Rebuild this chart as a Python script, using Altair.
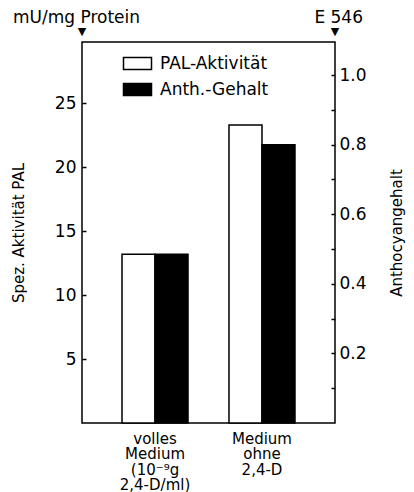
import altair as alt
import pandas as pd

categories = ["volles|Medium|(10⁻⁹g|2,4-D/ml)", "Medium|ohne|2,4-D"]
series = ["PAL-Aktivität", "Anth.-Gehalt"]
pal_values = [13.2, 23.3]
anth_values = [0.485, 0.80]
left_ticks = [5, 10, 15, 20, 25]
right_ticks = [0.1, 0.2, 0.3, 0.4, 0.5, 0.6, 0.7, 0.8, 0.9, 1.0]

FONT = "DejaVu Sans"

pal_df = pd.DataFrame({"cat": categories, "val": pal_values, "series": series[0]})
anth_df = pd.DataFrame({"cat": categories, "val": anth_values, "series": series[1]})

x_enc = alt.X(
    "cat:N",
    sort=categories,
    scale=alt.Scale(paddingInner=0.383, paddingOuter=0.374),
    axis=alt.Axis(
        title=None, labelAngle=0, ticks=False, domain=False,
        labelExpr="split(datum.label, '|')",
        labelFont=FONT, labelFontSize=15, labelColor="black",
        labelLineHeight=15.5, labelPadding=8, labelBaseline="top",
    ),
)
xoff = alt.XOffset("series:N", sort=series,
                   scale=alt.Scale(domain=series, paddingInner=0, paddingOuter=0))
fill_enc = alt.Fill(
    "series:N",
    scale=alt.Scale(domain=series, range=["white", "black"]),
    legend=alt.Legend(
        title=None, orient="none", legendX=47, legendY=13,
        symbolType="M -2 -0.84 L 2 -0.84 L 2 0.84 L -2 0.84 Z",
        symbolSize=196, symbolStrokeColor="black", symbolStrokeWidth=1.5,
        labelFont=FONT, labelFontSize=17, labelColor="black",
        rowPadding=7, labelOffset=14,
    ),
)

pal = alt.Chart(pal_df).mark_bar(stroke="black", strokeWidth=1.5).encode(
    x=x_enc,
    xOffset=xoff,
    fill=fill_enc,
    y=alt.Y(
        "val:Q",
        scale=alt.Scale(domain=[0, 29.8], nice=False, zero=False),
        axis=alt.Axis(
            orient="left", values=left_ticks, domain=False, grid=False,
            offset=-4, tickSize=4, tickWidth=1.5, tickColor="black",
            labelFont=FONT, labelFontSize=17, labelColor="black", labelPadding=6,
            title="Spez. Aktivität PAL", titleFont=FONT, titleFontSize=15,
            titleFontWeight="normal", titleColor="black", titlePadding=28,
        ),
    ),
)

anth = alt.Chart(anth_df).mark_bar(stroke="black", strokeWidth=1.5).encode(
    x=x_enc,
    xOffset=xoff,
    fill=fill_enc,
    y=alt.Y(
        "val:Q",
        scale=alt.Scale(domain=[0, 1.095], nice=False, zero=False),
        axis=alt.Axis(
            orient="right", values=right_ticks, domain=False, grid=False,
            offset=-4, tickSize=4, tickWidth=1.5, tickColor="black",
            labelExpr="round(datum.value*10) % 2 == 0 ? format(datum.value, '.1f') : ''",
            labelFont=FONT, labelFontSize=17, labelColor="black", labelPadding=4,
            title="Anthocyangehalt", titleFont=FONT, titleFontSize=15,
            titleFontWeight="normal", titleColor="black", titlePadding=38,
            titleAngle=270,
        ),
    ),
)

ann_df = pd.DataFrame({"t": ["mU/mg Protein"]})
top_left = alt.Chart(ann_df).mark_text(
    text="mU/mg Protein", font=FONT, fontSize=17, align="left", baseline="alphabetic", color="black"
).encode(x=alt.value(-69), y=alt.value(-19))
top_right = alt.Chart(ann_df).mark_text(
    text="E 546", font=FONT, fontSize=17, align="right", baseline="alphabetic", color="black"
).encode(x=alt.value(281), y=alt.value(-19))
tri_left = alt.Chart(ann_df).mark_text(
    text="▼", font=FONT, fontSize=11, align="center", baseline="middle", color="black"
).encode(x=alt.value(0), y=alt.value(-10))
tri_right = alt.Chart(ann_df).mark_text(
    text="▼", font=FONT, fontSize=11, align="center", baseline="middle", color="black"
).encode(x=alt.value(253), y=alt.value(-10))

chart = alt.layer(pal, anth, top_left, top_right, tri_left, tri_right).resolve_scale(
    y="independent"
).properties(
    width=253, height=381,
    autosize=alt.AutoSizeParams(type="none"),
    padding={"left": 74, "top": 34, "right": 71, "bottom": 72},
    background="white",
).configure_view(
    stroke="black", strokeWidth=1.5
)

chart.save("out.html", embed_options={"renderer": "svg", "actions": False})
